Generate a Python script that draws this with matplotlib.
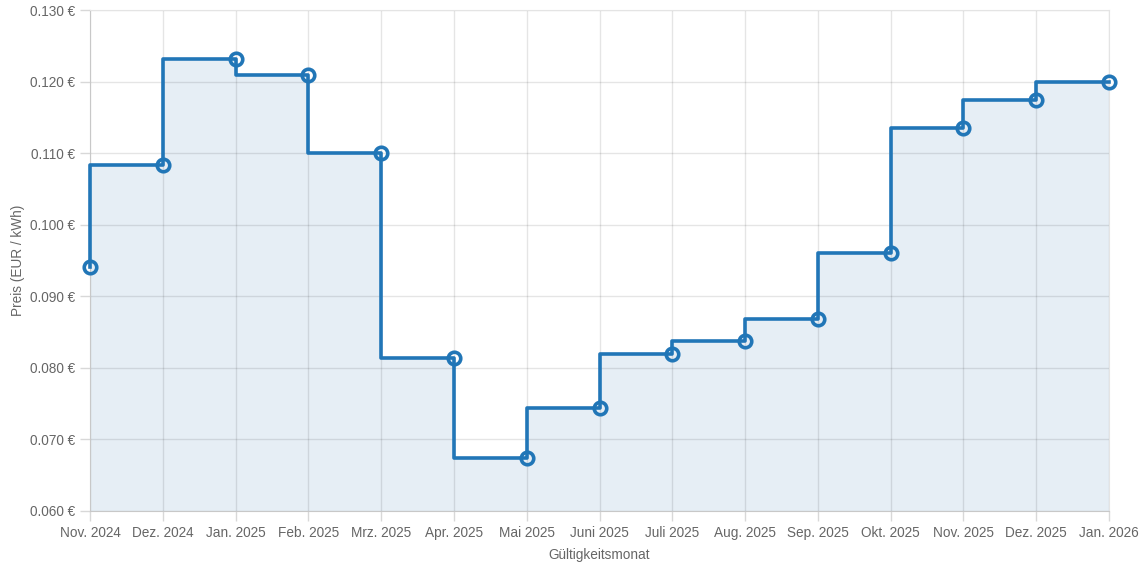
import matplotlib.pyplot as plt
from matplotlib.ticker import FuncFormatter

plt.rcParams['font.family'] = ['Liberation Sans', 'DejaVu Sans']

months = ["Nov. 2024", "Dez. 2024", "Jan. 2025", "Feb. 2025", "Mrz. 2025",
          "Apr. 2025", "Mai 2025", "Juni 2025", "Juli 2025", "Aug. 2025",
          "Sep. 2025", "Okt. 2025", "Nov. 2025", "Dez. 2025", "Jan. 2026"]
prices = [0.0941, 0.1083, 0.1232, 0.1209, 0.1100, 0.0814, 0.0674, 0.0744,
          0.0819, 0.0838, 0.0868, 0.0960, 0.1135, 0.1174, 0.1199]

line_color = "#2176b7"
text_color = "#666666"

fig = plt.figure(figsize=(11.45, 5.64), dpi=100)
ax = fig.add_axes([0.0786, 0.094, 0.89, 0.888])

x = list(range(len(months)))
ax.fill_between(x, prices, 0.060, step="pre", color="#e6eef5", zorder=1)
ax.plot(x, prices, drawstyle="steps-pre", color=line_color, linewidth=2.6,
        zorder=3, clip_on=False)
ax.plot(x, prices, linestyle="none", marker="o", markersize=9,
        markerfacecolor="none", markeredgecolor=line_color, markeredgewidth=2.6,
        zorder=4, clip_on=False)

ax.set_xlim(0, len(months) - 1)
ax.set_ylim(0.060, 0.130)
ax.set_xticks(x)
ax.set_xticklabels(months)
ax.set_yticks([0.06 + 0.01 * i for i in range(8)])
ax.yaxis.set_major_formatter(FuncFormatter(lambda v, p: f"{v:.3f} €"))

ax.grid(True, color="black", alpha=0.1, linewidth=1, zorder=2)
for s in ax.spines.values():
    s.set_color("#e4e4e4")
    s.set_zorder(2)
ax.spines["left"].set_color("#c8c8c8")
ax.spines["bottom"].set_color("#c8c8c8")
ax.tick_params(colors="#d8d8d8", labelcolor=text_color, labelsize=9.8,
               length=7, width=1)

ax.set_xlabel("Gültigkeitsmonat", color=text_color, fontsize=9.8, labelpad=6)
ax.set_ylabel("Preis (EUR / kWh)", color=text_color, fontsize=9.8, labelpad=4)

fig.savefig("out.png", dpi=100)
